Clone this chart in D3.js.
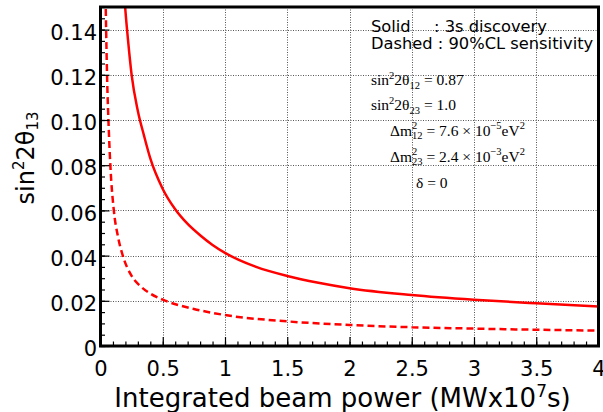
<!DOCTYPE html>
<html><head><meta charset="utf-8">
<script src="https://cdn.jsdelivr.net/npm/d3@7"></script>
<style>body{margin:0;background:#fff}svg{display:block}</style>
</head><body><svg id="c" width="603" height="412"></svg>
<script>
// ---- data ----
const xTicks = [0, 0.5, 1, 1.5, 2, 2.5, 3, 3.5, 4];
const xTickLabels = ["0", "0.5", "1", "1.5", "2", "2.5", "3", "3.5", "4"];
const yTicks = [0, 0.02, 0.04, 0.06, 0.08, 0.10, 0.12, 0.14];
const yTickLabels = ["0", "0.02", "0.04", "0.06", "0.08", "0.10", "0.12", "0.14"];
const xMinorTicks = d3.range(0, 41).map(i => i / 10);
const yMinorTicks = d3.range(0, 31).map(i => i * 0.005);

// Solid: 3s discovery
const solidX = [0.19, 0.2, 0.22, 0.25, 0.3, 0.35, 0.4, 0.5, 0.6, 0.7, 0.8, 0.9, 1.0, 1.25, 1.5, 1.75, 2.0, 2.5, 3.0, 3.5, 4.0];
const solidY = [0.156, 0.1485, 0.136, 0.12, 0.104, 0.093, 0.083, 0.0695, 0.0605, 0.054, 0.049, 0.0447, 0.0412, 0.035, 0.031, 0.028, 0.0256, 0.0226, 0.0205, 0.0189, 0.0175];
// Dashed: 90%CL sensitivity
const dashedX = [0.041, 0.043, 0.053, 0.067, 0.08, 0.107, 0.14, 0.179, 0.25, 0.32, 0.4, 0.5, 0.75, 1.0, 1.5, 2.0, 2.5, 3.0, 3.5, 4.0];
const dashedY = [0.154, 0.147, 0.119, 0.095, 0.079, 0.06, 0.0485, 0.04, 0.031, 0.0265, 0.0232, 0.0205, 0.0164, 0.0137, 0.0109, 0.0093, 0.0083, 0.0077, 0.0072, 0.0068];

// ---- layout ----
const L = 100.5, R = 598.5, T = 7, B = 346;
const svg = d3.select("#c");
const x = d3.scaleLinear().domain([0, 4]).range([L, R]);
const y = d3.scaleLinear().domain([0, 0.15]).range([B, T]);
const sans = "'DejaVu Sans', sans-serif";
const serif = "'Liberation Serif', 'Times New Roman', serif";

// grid
const grid = svg.append("g").attr("stroke", "#555").attr("stroke-width", 1).attr("stroke-dasharray", "1,1.5");
grid.selectAll("line.v").data(xTicks.filter(v => v > 0 && v < 4)).join("line")
  .attr("x1", d => Math.round(x(d)) + 0.5).attr("x2", d => Math.round(x(d)) + 0.5)
  .attr("y1", T).attr("y2", B);
grid.selectAll("line.h").data(yTicks.filter(v => v > 0)).join("line")
  .attr("y1", d => Math.round(y(d)) + 0.5).attr("y2", d => Math.round(y(d)) + 0.5)
  .attr("x1", L).attr("x2", R);

// curves
svg.append("clipPath").attr("id", "clip").append("rect")
  .attr("x", L).attr("y", T).attr("width", R - L).attr("height", B - T);
const line = d3.line().x(d => x(d[0])).y(d => y(d[1])).curve(d3.curveMonotoneX);
svg.append("path").attr("clip-path", "url(#clip)")
  .attr("d", line(solidX.map((v, i) => [v, solidY[i]])))
  .attr("fill", "none").attr("stroke", "#ff0000").attr("stroke-width", 2.5);
svg.append("path").attr("clip-path", "url(#clip)")
  .attr("d", line(dashedX.map((v, i) => [v, dashedY[i]])))
  .attr("fill", "none").attr("stroke", "#ff0000").attr("stroke-width", 2.5)
  .attr("stroke-dasharray", "7,4");

// axes
const ax = svg.append("g").attr("transform", `translate(0,${B})`)
  .call(d3.axisBottom(x).tickValues(xTicks).tickSize(-9).tickPadding(15)
    .tickFormat((d, i) => xTickLabels[i]));
const axm = svg.append("g").attr("transform", `translate(0,${B})`)
  .call(d3.axisBottom(x).tickValues(xMinorTicks).tickSize(-4.5).tickFormat(""));
const ay = svg.append("g").attr("transform", `translate(${L},0)`)
  .call(d3.axisLeft(y).tickValues(yTicks).tickSize(-9).tickPadding(3.5)
    .tickFormat((d, i) => yTickLabels[i]));
const aym = svg.append("g").attr("transform", `translate(${L},0)`)
  .call(d3.axisLeft(y).tickValues(yMinorTicks).tickSize(-4.5).tickFormat(""));
[ax, axm, ay, aym].forEach(g => {
  g.select(".domain").remove();
  g.selectAll(".tick line").attr("stroke", "#000").attr("stroke-width", 1.2);
  g.selectAll("text").attr("font-family", sans).attr("font-size", 21).attr("fill", "#000");
});
ay.selectAll("text").attr("dy", "0.46em");

// frame
svg.append("rect").attr("x", L).attr("y", T).attr("width", R - L).attr("height", B - T)
  .attr("fill", "none").attr("stroke", "#000").attr("stroke-width", 3);

// axis titles
const xt = svg.append("text").attr("x", 342.5).attr("y", 406.5).attr("text-anchor", "middle")
  .attr("font-family", sans).attr("font-size", 26).attr("fill", "#000");
xt.append("tspan").text("Integrated beam power (MWx10");
xt.append("tspan").attr("font-size", 17).attr("dy", -10).text("7");
xt.append("tspan").attr("dy", 10).text("s)");

const yt = svg.append("text").attr("transform", "translate(34,158) rotate(-90)")
  .attr("text-anchor", "middle").attr("font-family", sans).attr("font-size", 24).attr("fill", "#000");
yt.append("tspan").text("sin");
yt.append("tspan").attr("font-size", 15).attr("dy", -10).text("2");
yt.append("tspan").attr("dy", 10).text("2θ");
yt.append("tspan").attr("font-size", 15).attr("dy", 4).text("13");

// legend text
const leg = svg.append("g").attr("font-family", sans).attr("font-size", 16.3).attr("fill", "#000");
leg.append("text").attr("x", 371).attr("y", 31.5).text("Solid");
leg.append("text").attr("x", 434).attr("y", 31.5).text(": 3s discovery");
leg.append("text").attr("x", 371).attr("y", 49).text("Dashed : 90%CL sensitivity");

// parameter text
const fs = 15.5, ss = 10.5;
const m = svg.append("g").attr("font-family", serif).attr("font-size", fs).attr("fill", "#000");
function sinLine(xx, yy, sub, val) {
  const t = m.append("text").attr("x", xx).attr("y", yy);
  t.append("tspan").text("sin");
  t.append("tspan").attr("font-size", ss).attr("dy", -6).text("2");
  t.append("tspan").attr("dy", 6).text("2θ");
  t.append("tspan").attr("font-size", ss).attr("dy", 4).text(sub);
  t.append("tspan").attr("dy", -4).text(" = " + val);
}
sinLine(371, 85, "12", "0.87");
sinLine(371, 110, "23", "1.0");
function dmLine(xx, yy, sub, val, exp) {
  const t = m.append("text").attr("x", xx).attr("y", yy);
  t.append("tspan").text("Δm");
  t.append("tspan").attr("font-size", ss).attr("dy", -6.5).text("2");
  t.append("tspan").attr("font-size", ss).attr("dx", -5.25).attr("dy", 10).text(sub);
  t.append("tspan").attr("dy", -3.5).text(" = " + val + " × 10");
  t.append("tspan").attr("font-size", ss).attr("dy", -6.5).text(exp);
  t.append("tspan").attr("dy", 6.5).text("eV");
  t.append("tspan").attr("font-size", ss).attr("dy", -6.5).text("2");
}
dmLine(390, 135.5, "12", "7.6", "−5");
dmLine(390, 161.5, "23", "2.4", "−3");
m.append("text").attr("x", 416).attr("y", 188).text("δ = 0");
</script></body></html>
